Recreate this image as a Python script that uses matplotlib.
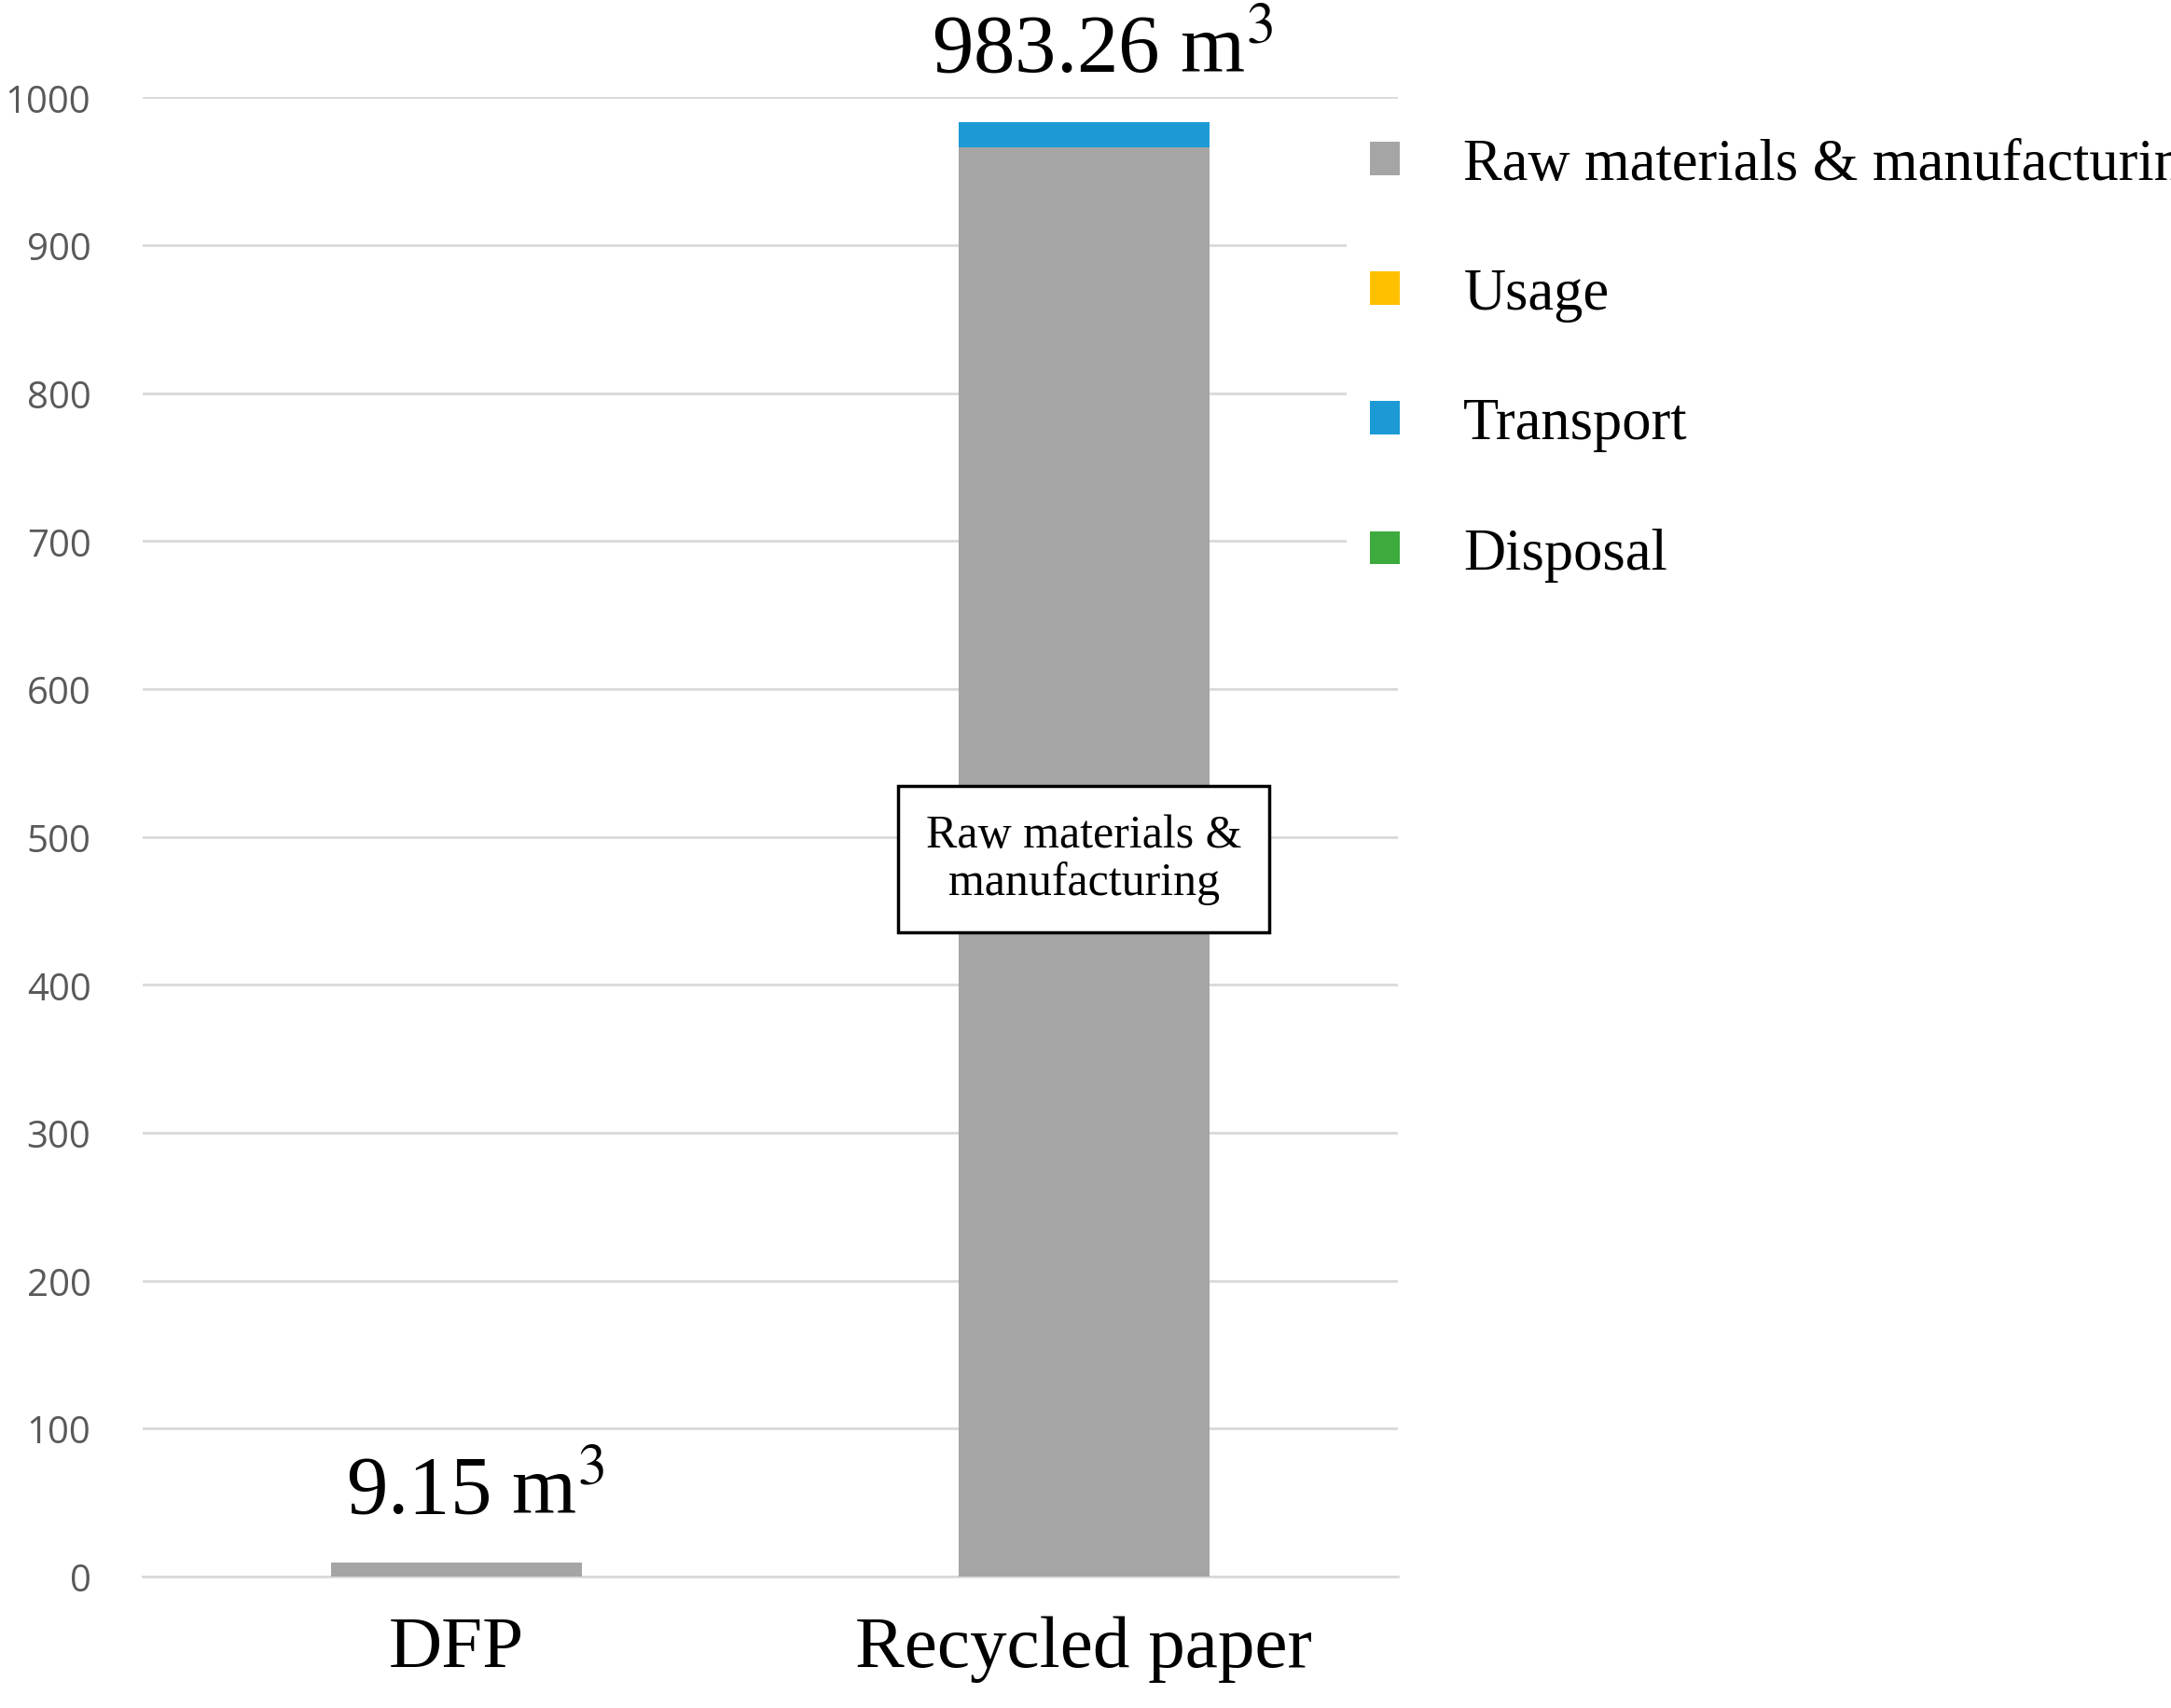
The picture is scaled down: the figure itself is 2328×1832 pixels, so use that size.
import matplotlib
matplotlib.use("Agg")
import matplotlib.pyplot as plt
import numpy as np

categories = ["DFP", "Recycled paper"]
series_names = ["Raw materials & manufacturing", "Usage", "Transport", "Disposal"]
raw = [9.15, 966.0]
usage = [0.0, 0.0]
transport = [0.0, 17.26]
disposal = [0.0, 0.0]
totals_labels = ["9.15 m$^3$", "983.26 m$^3$"]
colors = ["#A5A5A5", "#FFC000", "#1C9AD6", "#3DAA3D"]

plt.rcParams['mathtext.fontset'] = 'stix'
serif = "Liberation Serif"

fig = plt.figure(figsize=(23.28, 18.33), dpi=100)
ax = fig.add_axes([0.0657, 0.077, 0.578, 0.8655])
x = np.arange(len(categories))
bottom = np.zeros(len(categories))
handles = []
for vals, name, c in zip([raw, usage, transport, disposal], series_names, colors):
    h = ax.bar(x, vals, 0.4, bottom=bottom, color=c, label=name, zorder=3)
    handles.append(h)
    bottom += np.array(vals)

ax.set_xlim(-0.5, 1.5)
ax.set_ylim(0, 1000)
ax.set_yticks(np.arange(0, 1001, 100))
ax.yaxis.grid(True, color="#D9D9D9", linewidth=2, zorder=0)
for s in ["top", "right", "left"]:
    ax.spines[s].set_visible(False)
ax.spines["bottom"].set_color("#D9D9D9")
ax.spines["bottom"].set_linewidth(2)
ax.tick_params(axis="y", length=0, labelsize=29, labelcolor="#595959", pad=40)
ax.tick_params(axis="x", length=0, pad=30)
ax.set_xticks(x)
ax.set_xticklabels(categories, fontsize=57, family=serif)
for lab in ax.get_yticklabels():
    lab.set_family("Open Sans")

for xi, tot, lab in zip(x, bottom, totals_labels):
    ax.text(xi + 0.03, tot + 22, lab, ha="center", va="bottom", fontsize=64,
            family=serif, clip_on=False)

ax.text(1, 485, "Raw materials &\nmanufacturing", ha="center", va="center",
        fontsize=36, family=serif, zorder=5, linespacing=1.1,
        bbox=dict(boxstyle="square,pad=0.6", facecolor="white", edgecolor="black", linewidth=2.5))

leg = fig.legend(handles=handles, labels=series_names, loc="upper left",
                 bbox_to_anchor=(0.607, 0.95), frameon=True, facecolor="white",
                 edgecolor="none", framealpha=1, handlelength=0.5,
                 handleheight=0.5, labelspacing=1.3, handletextpad=1.1,
                 prop={"family": serif, "size": 45})
fig.savefig("out.png", dpi=100, facecolor="white")
